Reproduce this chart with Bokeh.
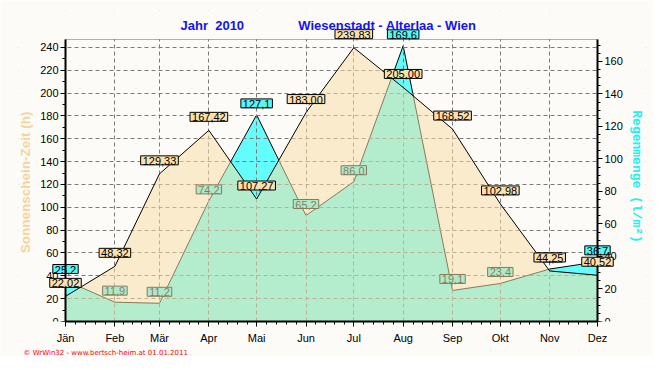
import pandas as pd
from bokeh.plotting import figure
from bokeh.models import (Range1d, LinearAxis, FixedTicker, Label, ColumnDataSource, Title,
                          BoxAnnotation)
from bokeh.embed import file_html
from bokeh.resources import INLINE

# ---- data ----
months = ["Jän", "Feb", "Mär", "Apr", "Mai", "Jun", "Jul", "Aug", "Sep", "Okt", "Nov", "Dez"]
sunshine = [22.02, 48.32, 129.33, 167.42, 107.27, 183.00, 239.83, 205.00, 168.52, 102.98, 44.25, 40.52]
rain = [25.2, 11.9, 11.2, 74.2, 127.1, 65.2, 86.0, 169.6, 19.1, 23.4, 32.3, 36.7]
left_ticks = list(range(0, 241, 20))
right_ticks = list(range(0, 161, 20))
LEFT_MAX = 247
RIGHT_MAX = 173.5

dates = pd.date_range("2010-01-01", periods=12, freq="MS")
xday = [int((d - dates[0]).days) for d in dates]

BG = "#FCFBF7"
CYAN = "#00FFFF"
BEIGE = "#F6DEA7"

# ---- layout (pixels) ----
TOTAL_W, TOTAL_H = 653, 354
PLOT_L, PLOT_T, PLOT_W, PLOT_H = 65, 39, 532, 282   # visible plot box
FRAME_L, FRAME_R, FRAME_T = 18, 645, 10             # larger drawing frame (nothing clipped)
BORDER_B = TOTAL_H - PLOT_T - PLOT_H

xspan = xday[-1] - xday[0]
x_lo = xday[0] - (PLOT_L - FRAME_L) * xspan / PLOT_W
x_hi = xday[-1] + (FRAME_R - PLOT_L - PLOT_W) * xspan / PLOT_W
pad_t = PLOT_T - FRAME_T
y_hi = LEFT_MAX + pad_t * LEFT_MAX / PLOT_H
r_hi = RIGHT_MAX + pad_t * RIGHT_MAX / PLOT_H

src = ColumnDataSource(dict(x=xday, sun=sunshine, rain=rain))

p = figure(frame_width=FRAME_R - FRAME_L, frame_height=PLOT_H + pad_t,
           x_range=Range1d(x_lo, x_hi), y_range=Range1d(0, y_hi),
           output_backend="svg", toolbar_location=None,
           min_border_left=FRAME_L, min_border_right=TOTAL_W - FRAME_R,
           min_border_top=FRAME_T, min_border_bottom=BORDER_B,
           background_fill_color=BG, border_fill_color=BG, outline_line_color=None)
p.extra_y_ranges = {"rain": Range1d(0, r_hi)}

# x axis
minor_x = []
for a, b in zip(xday[:-1], xday[1:]):
    minor_x += [a + k * (b - a) / 5 for k in range(1, 5)]
p.xaxis.ticker = FixedTicker(ticks=xday, minor_ticks=minor_x)
p.xaxis.major_label_overrides = {d: m for d, m in zip(xday, months)}
p.xaxis.bounds = (xday[0], xday[-1])

# left axis
la = p.yaxis[0]
la.ticker = FixedTicker(ticks=left_ticks, minor_ticks=list(range(0, LEFT_MAX, 10)))
la.fixed_location = xday[0]
la.bounds = (0, LEFT_MAX)
la.axis_label = "Sonnenschein-Zeit  (h)"
la.axis_label_text_color = "#F5D49C"
la.axis_label_text_font = "Liberation Sans"
la.axis_label_text_font_style = "bold"
la.axis_label_text_font_size = "13.5px"
la.axis_label_standoff = 4

# right axis
ra = LinearAxis(y_range_name="rain",
                ticker=FixedTicker(ticks=right_ticks, minor_ticks=list(range(0, 174, 5))),
                axis_label="Regenmenge  (l/m²)", fixed_location=xday[-1],
                bounds=(0, RIGHT_MAX))
ra.axis_label_text_color = "#20F0F0"
ra.axis_label_text_font = "Liberation Mono"
ra.axis_label_text_font_style = "bold"
ra.axis_label_text_font_size = "13px"
ra.axis_label_standoff = 3
p.add_layout(ra, "right")

for ax in p.xaxis + p.yaxis:
    ax.axis_line_width = 2
    ax.axis_line_color = "black"
    ax.major_tick_out = 5
    ax.major_tick_in = 0
    ax.minor_tick_out = 3
    ax.minor_tick_in = 0
    ax.major_tick_line_color = "black"
    ax.minor_tick_line_color = "black"
    ax.major_label_text_font = "Liberation Sans"
    ax.major_label_text_font_size = "11px"
    ax.major_label_text_color = "black"
    ax.major_label_standoff = 2
p.xaxis.major_label_standoff = 5

for g in (p.xgrid, p.ygrid):
    g.grid_line_color = "#7A7A7A"
    g.grid_line_dash = "4 3"
    g.grid_line_width = 1

# hide grid lines in the extra frame room outside the plot box
for kw in (dict(right=xday[0]), dict(left=xday[-1]), dict(bottom=LEFT_MAX)):
    p.add_layout(BoxAnnotation(fill_color=BG, fill_alpha=1, line_color=None,
                               level="underlay", **kw))

label_style = dict(text_align="center", text_baseline="bottom",
                   text_font="Liberation Sans", text_font_size="11px", text_color="black",
                   border_line_color="black")


def make_label(**kw):
    lbl = Label(**label_style, **kw)
    try:
        lbl.padding = dict(left=2, right=2, top=1, bottom=0)
    except Exception:
        lbl.padding = 1
    return lbl


# rain labels sit under the sunshine area (where it covers them)
for xd, v in zip(xday, rain):
    p.add_layout(make_label(x=xd, y=v, y_range_name="rain", text=f"{v:.1f}".replace(".", ","),
                            y_offset=7, background_fill_color="#55F6F6", level="underlay"))

# rain (cyan) area, drawn under the sunshine area
p.varea(x="x", y1=0, y2="rain", source=src, y_range_name="rain",
        fill_color=CYAN, fill_alpha=0.6, level="underlay")
p.line(x="x", y="rain", source=src, y_range_name="rain",
       line_color="black", line_width=1, level="underlay")

# sunshine (beige) area on top
p.varea(x="x", y1=0, y2="sun", source=src, fill_color=BEIGE, fill_alpha=0.55)
p.line(x="x", y="sun", source=src, line_color="black", line_width=1)

# plot box outline
p.add_layout(BoxAnnotation(left=xday[0], right=xday[-1], bottom=0, top=LEFT_MAX,
                           fill_alpha=0, line_color="black", line_width=1))

for xd, v in zip(xday, sunshine):
    p.add_layout(make_label(x=xd, y=v, text=f"{v:.2f}".replace(".", ","), y_offset=9,
                            background_fill_color="#FCE1AC"))

# header (screen units are measured from the frame's lower left corner)
nb = "\u00a0"
p.add_layout(Label(x=180 - FRAME_L, y=PLOT_T + PLOT_H - 24.5, x_units="screen", y_units="screen",
                   text="Jahr" + nb * 2 + "2010" + nb * 15 + "Wiesenstadt - Alterlaa - Wien",
                   text_align="left", text_baseline="middle",
                   text_font="Liberation Sans", text_font_style="bold",
                   text_font_size="13px", text_color="#1414F0"))
# footer
p.add_layout(Title(text="© WrWin32 - www.bertsch-heim.at  01.01.2011",
                   align="left", offset=23 - FRAME_L, standoff=0,
                   text_font="DejaVu Sans", text_font_style="normal",
                   text_font_size="7px", text_color="#FF0000"), "below")

open("out.html", "w").write(file_html(p, INLINE))
